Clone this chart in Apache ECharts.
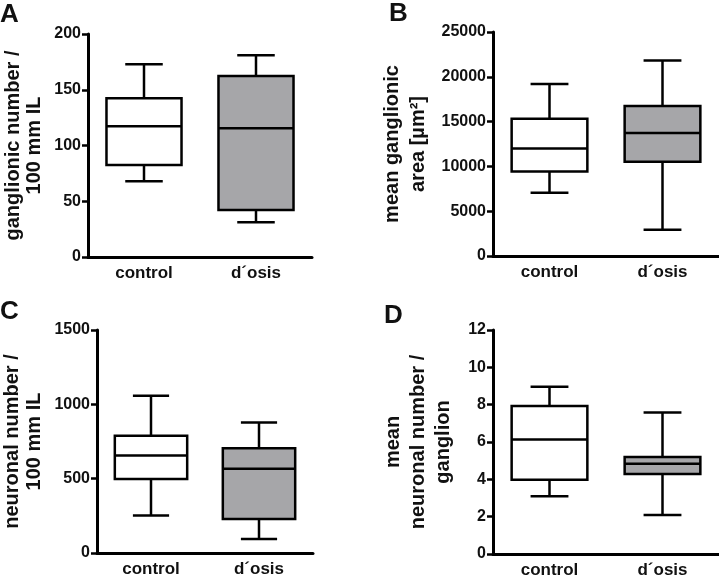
<!DOCTYPE html>
<html>
<head>
<meta charset="utf-8">
<script src="https://cdn.jsdelivr.net/npm/echarts@6/dist/echarts.min.js"></script>
<style>html,body{margin:0;padding:0;background:#fff;}#c{width:719px;height:579px;}</style>
</head>
<body>
<div id="c"></div>
<script>
// Categories
var categories = ['control', 'd\u00b4osis'];
// Box stats: [min, Q1, median, Q3, max]
var A_control = [67.9, 82.5, 117.2, 142.3, 172.8];
var A_dosis   = [31.1, 42.2, 115.4, 162.3, 180.9];
var B_control = [7065, 9442, 12009, 15324, 19196];
var B_dosis   = [2935, 10525, 13728, 16741, 21830];
var C_control = [253, 497, 656, 788, 1057];
var C_dosis   = [94, 228, 566, 705, 878];
var D_control = [3.10, 3.98, 6.14, 7.93, 8.96];
var D_dosis   = [2.09, 4.28, 4.83, 5.19, 7.58];
// Axis ranges
var A_axis = {min: 0, max: 200, interval: 50};
var B_axis = {min: 0, max: 25000, interval: 5000};
var C_axis = {min: 0, max: 1500, interval: 500};
var D_axis = {min: 0, max: 12, interval: 2};
// Titles
var A_title = 'ganglionic number /\n100 mm IL';
var B_title = 'mean ganglionic\narea [\u00b5m\u00b2]';
var C_title = 'neuronal number /\n100 mm IL';
var D_title = 'mean\nneuronal number /\nganglion';
var panelLetters = ['A', 'B', 'C', 'D'];

var FONT = '"Liberation Sans", Arial, sans-serif';
var fills = ['#ffffff', '#a6a6a9'];
var LW = 2.5;

function renderBox(params, api) {
  var x = api.value(0);
  var pMin = api.coord([x, api.value(1)]);
  var pQ1 = api.coord([x, api.value(2)]);
  var pMed = api.coord([x, api.value(3)]);
  var pQ3 = api.coord([x, api.value(4)]);
  var pMax = api.coord([x, api.value(5)]);
  var bw = api.size([1, 0])[0] * 0.67;
  var cw = bw * 0.5;
  var cx = pMed[0];
  var st = {stroke: '#000', lineWidth: LW, fill: null};
  return {
    type: 'group',
    children: [
      {type: 'line', shape: {x1: cx, y1: pMin[1], x2: cx, y2: pQ1[1]}, style: st},
      {type: 'line', shape: {x1: cx, y1: pQ3[1], x2: cx, y2: pMax[1]}, style: st},
      {type: 'line', shape: {x1: cx - cw / 2, y1: pMin[1], x2: cx + cw / 2, y2: pMin[1]}, style: st},
      {type: 'line', shape: {x1: cx - cw / 2, y1: pMax[1], x2: cx + cw / 2, y2: pMax[1]}, style: st},
      {type: 'rect', shape: {x: cx - bw / 2, y: pQ3[1], width: bw, height: pQ1[1] - pQ3[1]},
        style: {stroke: '#000', lineWidth: LW, fill: fills[params.dataIndex]}},
      {type: 'line', shape: {x1: cx - bw / 2, y1: pMed[1], x2: cx + bw / 2, y2: pMed[1]}, style: st}
    ]
  };
}

var grids = [
  {left: 88, top: 34, width: 224, height: 223},
  {left: 493, top: 32, width: 226, height: 224},
  {left: 96, top: 330, width: 217, height: 223},
  {left: 493, top: 330, width: 226, height: 226}
];
var axes = [A_axis, B_axis, C_axis, D_axis];
var titles = [A_title, B_title, C_title, D_title];
var lineHeights = [21, 26, 22, 25];
var nameGaps = [43, 62, 52, 37];
var dataSets = [[A_control, A_dosis], [B_control, B_dosis], [C_control, C_dosis], [D_control, D_dosis]];

var xAxes = [], yAxes = [], series = [];
for (var i = 0; i < 4; i++) {
  xAxes.push({
    type: 'category', gridIndex: i, data: categories,
    axisLine: {lineStyle: {color: '#000', width: 3}},
    axisTick: {alignWithLabel: true, length: 6, lineStyle: {color: '#000', width: 2.5}},
    axisLabel: {color: '#111', fontFamily: FONT, fontWeight: 'bold', fontSize: 17, margin: 8}
  });
  yAxes.push({
    type: 'value', gridIndex: i,
    min: axes[i].min, max: axes[i].max, interval: axes[i].interval,
    splitLine: {show: false},
    axisLine: {show: true, onZero: false, lineStyle: {color: '#000', width: 3}},
    axisTick: {show: true, length: 6, lineStyle: {color: '#000', width: 2.5}},
    axisLabel: {color: '#111', fontFamily: FONT, fontWeight: 'bold', fontSize: 16, margin: 7,
      formatter: function (v) { return String(v); }},
    name: titles[i], nameLocation: 'middle', nameRotate: 90, nameGap: nameGaps[i],
    nameTextStyle: {color: '#111', fontFamily: FONT, fontWeight: 'bold', fontSize: 20,
      lineHeight: lineHeights[i], align: 'center'}
  });
  series.push({
    type: 'custom', xAxisIndex: i, yAxisIndex: i, renderItem: renderBox,
    encode: {x: 0, y: [1, 2, 3, 4, 5]},
    data: dataSets[i].map(function (d, k) { return [k].concat(d); }),
    z: 3
  });
}

var letterPos = [[0, 2], [389, 1], [0, 299], [384, 303]];
var titleComps = panelLetters.map(function (t, k) {
  return {text: t, left: letterPos[k][0], top: letterPos[k][1], padding: 0,
    textStyle: {fontFamily: FONT, fontWeight: 'bold', fontSize: 26, color: '#111'}};
});

var chart = echarts.init(document.getElementById('c'), null, {renderer: 'canvas'});
chart.setOption({
  animation: false,
  backgroundColor: '#fff',
  title: titleComps,
  grid: grids,
  xAxis: xAxes,
  yAxis: yAxes,
  series: series
});
</script>
</body>
</html>
